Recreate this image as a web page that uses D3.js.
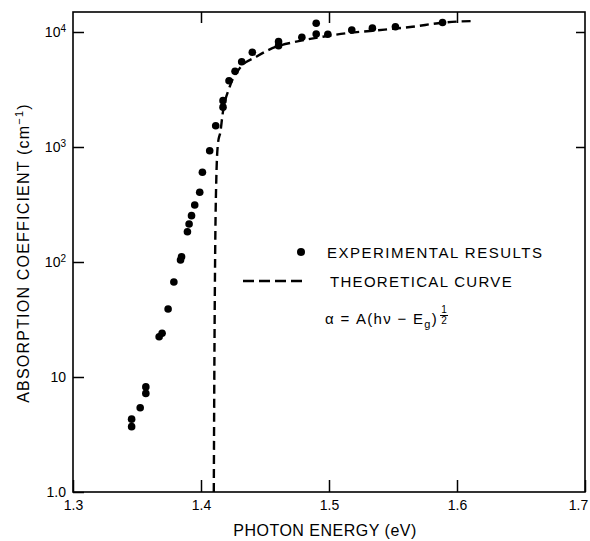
<!doctype html>
<html>
<head>
<meta charset="utf-8">
<script src="https://d3js.org/d3.v7.min.js"></script>
<style>
body { margin: 0; background: #fff; }
svg { display: block; font-family: "Liberation Sans", Arial, sans-serif; }
.tick line { stroke: #000; stroke-width: 1.5; }
</style>
</head>
<body>
<svg id="chart" width="590" height="541"></svg>
<script>
// measured points (photon energy eV, absorption coefficient cm^-1)
var expEnergy = [1.3458, 1.3458, 1.3525, 1.3569, 1.3569, 1.3673, 1.3696, 1.3743, 1.3788, 1.3840,
                 1.3848, 1.3894, 1.3907, 1.3926, 1.3951, 1.3990, 1.4011, 1.4068, 1.4115, 1.4172,
                 1.4172, 1.4219, 1.4266, 1.4318, 1.4401, 1.4606, 1.4606, 1.4788, 1.4900, 1.4900,
                 1.4991, 1.5178, 1.5339, 1.5519, 1.5887];
var expAlpha  = [4.3, 3.7, 5.4, 8.2, 7.2, 22.4, 24.0, 39, 67, 104,
                 111, 183, 214, 253, 313, 404, 603, 929, 1530, 2220,
                 2530, 3770, 4550, 5520, 6660, 7600, 8240, 8990, 9610, 11900,
                 9550, 10400, 10800, 11100, 12100];

// theoretical curve
var curveEnergy = [1.4100, 1.4104, 1.4110, 1.4120, 1.4133, 1.4152, 1.4168, 1.4224, 1.4302, 1.4432,
                   1.4588, 1.4744, 1.4952, 1.5134, 1.5342, 1.5651, 1.5885, 1.6135];
var curveAlpha  = [1.0, 10, 100, 548, 1084, 1360, 1900, 3340, 4830, 6100,
                   7450, 8240, 9100, 9750, 10260, 11100, 12050, 12470];

var xTicks = [1.3, 1.4, 1.5, 1.6, 1.7];
var xTickLabels = ["1.3", "1.4", "1.5", "1.6", "1.7"];
var yTicks = [1, 10, 100, 1000, 10000];
var yTickBase = ["1.0", "10", "10", "10", "10"];
var yTickExp = ["", "", "2", "3", "4"];

var svg = d3.select("#chart");
var mLeft = 73, mRight = 585, mTop = 12, mBottom = 492;

var x = d3.scaleLinear().domain([1.3, 1.7]).range([mLeft, mRight]);
var y = d3.scaleLog().domain([1, 1e4]).range([mBottom, 32]);

// frame
svg.append("rect")
  .attr("x", mLeft).attr("y", mTop)
  .attr("width", mRight - mLeft).attr("height", mBottom - mTop)
  .attr("fill", "none").attr("stroke", "#000").attr("stroke-width", 1.6);

// bottom axis, ticks point inward
var gx = svg.append("g")
  .attr("transform", "translate(0," + mBottom + ")")
  .call(d3.axisBottom(x).tickValues(xTicks).tickSize(-12).tickSizeOuter(0).tickPadding(8)
    .tickFormat(function(d, i) { return xTickLabels[i]; }));
gx.select(".domain").remove();
gx.selectAll("text").attr("font-size", 14).attr("fill", "#000").attr("font-family", "Liberation Sans, Arial, sans-serif")
  .attr("dx", function(d, i) { return i === xTicks.length - 1 ? -7 : 0; });

// top axis
var gt = svg.append("g")
  .attr("transform", "translate(0," + mTop + ")")
  .call(d3.axisTop(x).tickValues([1.4, 1.5, 1.6]).tickSize(-11).tickSizeOuter(0).tickFormat(""));
gt.select(".domain").remove();

// left axis
var gy = svg.append("g")
  .attr("transform", "translate(" + mLeft + ",0)")
  .call(d3.axisLeft(y).tickValues(yTicks).tickSize(-11).tickSizeOuter(0).tickFormat(""));
gy.select(".domain").remove();

yTicks.forEach(function(v, i) {
  var t = svg.append("text")
    .attr("x", 66).attr("y", y(v)).attr("dy", "0.35em")
    .attr("text-anchor", "end").attr("font-size", 14).attr("fill", "#000")
    .text(yTickBase[i]);
  if (yTickExp[i]) {
    t.append("tspan").attr("dy", "-0.45em").attr("font-size", 10).text(yTickExp[i]);
  }
});

// right axis
var gr = svg.append("g")
  .attr("transform", "translate(" + mRight + ",0)")
  .call(d3.axisRight(y).tickValues([1000, 10000]).tickSize(-9).tickSizeOuter(0).tickFormat(""));
gr.select(".domain").remove();

// theoretical curve
var line = d3.line()
  .x(function(d, i) { return x(curveEnergy[i]); })
  .y(function(d) { return y(d); })
  .curve(d3.curveMonotoneX);

svg.append("path")
  .datum(curveAlpha)
  .attr("d", line)
  .attr("fill", "none").attr("stroke", "#000")
  .attr("stroke-width", 2.4).attr("stroke-dasharray", "9,5");

// experimental points
svg.append("g").selectAll("circle")
  .data(expAlpha)
  .enter().append("circle")
  .attr("cx", function(d, i) { return x(expEnergy[i]); })
  .attr("cy", function(d) { return y(d); })
  .attr("r", 3.8)
  .attr("fill", "#000");

// legend
svg.append("circle").attr("cx", 301).attr("cy", 252).attr("r", 4).attr("fill", "#000");
svg.append("text").attr("x", 327).attr("y", 257.5)
  .attr("font-size", 15).attr("letter-spacing", 1.5).text("EXPERIMENTAL RESULTS");
svg.append("line").attr("x1", 243).attr("x2", 304).attr("y1", 281).attr("y2", 281)
  .attr("stroke", "#000").attr("stroke-width", 2.4).attr("stroke-dasharray", "11,5");
svg.append("text").attr("x", 330).attr("y", 287)
  .attr("font-size", 15).attr("letter-spacing", 1.3).text("THEORETICAL CURVE");

var f = svg.append("text").attr("x", 325).attr("y", 324).attr("font-size", 15).attr("letter-spacing", 1.3);
f.append("tspan").text("α = A(hν − E");
f.append("tspan").attr("dy", 4).attr("font-size", 11).text("g");
f.append("tspan").attr("dy", -4).text(")");
var fx = f.node().getBBox();
var cx = fx.x + fx.width + 6;
svg.append("text").attr("x", cx).attr("y", 313).attr("font-size", 10).attr("text-anchor", "middle").text("1");
svg.append("line").attr("x1", cx - 4).attr("x2", cx + 4).attr("y1", 315.5).attr("y2", 315.5)
  .attr("stroke", "#000").attr("stroke-width", 1);
svg.append("text").attr("x", cx).attr("y", 324).attr("font-size", 10).attr("text-anchor", "middle").text("2");

// axis titles
svg.append("text")
  .attr("transform", "translate(29,253) rotate(-90)")
  .attr("text-anchor", "middle").attr("font-size", 16).attr("letter-spacing", 1.2)
  .text("ABSORPTION  COEFFICIENT  (cm")
  .append("tspan").attr("dy", -6).attr("font-size", 11).text("−1")
  .select(function() { return this.parentNode; })
  .append("tspan").attr("dy", 6).text(")");

svg.append("text")
  .attr("x", 325).attr("y", 536)
  .attr("text-anchor", "middle").attr("font-size", 16).attr("letter-spacing", 0.5)
  .text("PHOTON  ENERGY  (eV)");
</script>
</body>
</html>
